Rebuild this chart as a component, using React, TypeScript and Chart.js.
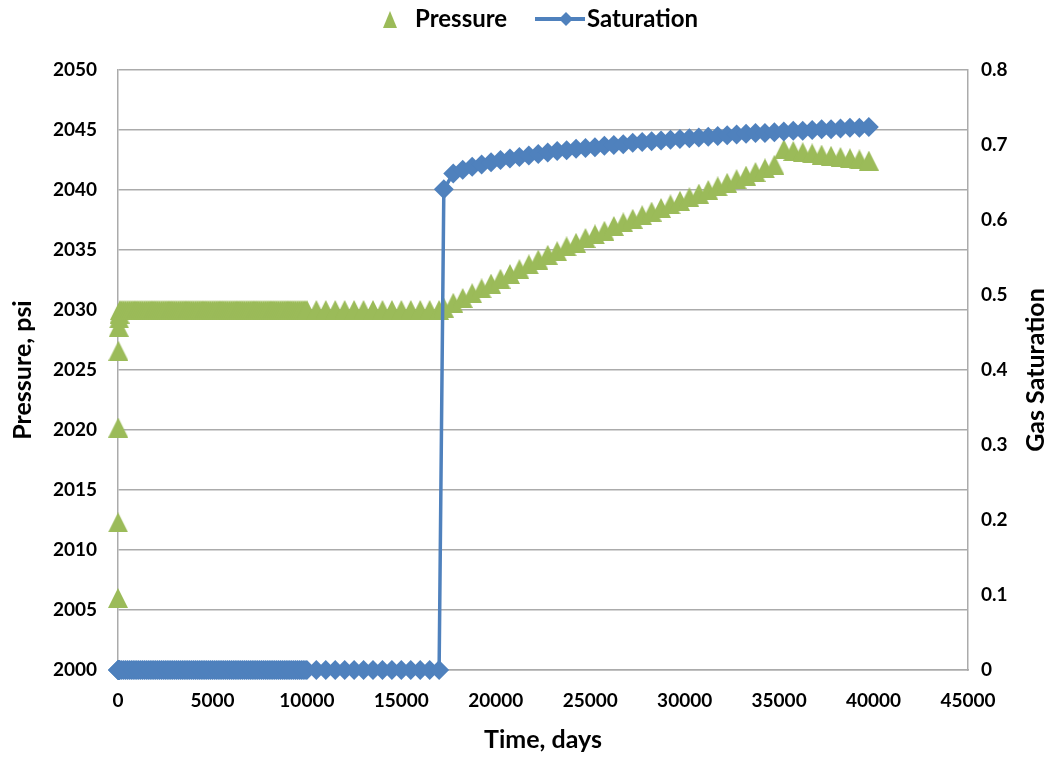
import { useEffect, useRef } from "react";
import { Chart, registerables } from "chart.js";

Chart.register(...registerables);

// ---- Simulation output: time (days), reservoir pressure (psi), gas saturation ----
const timeDays = [
  0, 5, 10, 20, 40, 60, 80,
  100, 200, 300, 400, 500, 600, 700, 800, 900, 1000,
  1100, 1200, 1300, 1400, 1500, 1600, 1700, 1800, 1900, 2000,
  2100, 2200, 2300, 2400, 2500, 2600, 2700, 2800, 2900, 3000,
  3100, 3200, 3300, 3400, 3500, 3600, 3700, 3800, 3900, 4000,
  4100, 4200, 4300, 4400, 4500, 4600, 4700, 4800, 4900, 5000,
  5100, 5200, 5300, 5400, 5500, 5600, 5700, 5800, 5900, 6000,
  6100, 6200, 6300, 6400, 6500, 6600, 6700, 6800, 6900, 7000,
  7100, 7200, 7300, 7400, 7500, 7600, 7700, 7800, 7900, 8000,
  8100, 8200, 8300, 8400, 8500, 8600, 8700, 8800, 8900, 9000,
  9100, 9200, 9300, 9400, 9500, 9600, 9700, 9800, 9900, 10000,
  10500, 11000, 11500, 12000, 12500, 13000, 13500, 14000, 14500, 15000,
  15500, 16000, 16500, 17000,
  17250, 17750, 18250, 18750, 19250, 19750, 20250, 20750, 21250, 21750,
  22250, 22750, 23250, 23750, 24250, 24750, 25250, 25750, 26250, 26750,
  27250, 27750, 28250, 28750, 29250, 29750, 30250, 30750, 31250, 31750,
  32250, 32750, 33250, 33750, 34250, 34750, 35250, 35750, 36250, 36750,
  37250, 37750, 38250, 38750, 39250, 39750,
];

const pressurePsi = [
  2006.0, 2012.3, 2020.2, 2026.6, 2028.6, 2029.3, 2029.7,
  2030.0, 2030.0, 2030.0, 2030.0, 2030.0, 2030.0, 2030.0, 2030.0, 2030.0, 2030.0,
  2030.0, 2030.0, 2030.0, 2030.0, 2030.0, 2030.0, 2030.0, 2030.0, 2030.0, 2030.0,
  2030.0, 2030.0, 2030.0, 2030.0, 2030.0, 2030.0, 2030.0, 2030.0, 2030.0, 2030.0,
  2030.0, 2030.0, 2030.0, 2030.0, 2030.0, 2030.0, 2030.0, 2030.0, 2030.0, 2030.0,
  2030.0, 2030.0, 2030.0, 2030.0, 2030.0, 2030.0, 2030.0, 2030.0, 2030.0, 2030.0,
  2030.0, 2030.0, 2030.0, 2030.0, 2030.0, 2030.0, 2030.0, 2030.0, 2030.0, 2030.0,
  2030.0, 2030.0, 2030.0, 2030.0, 2030.0, 2030.0, 2030.0, 2030.0, 2030.0, 2030.0,
  2030.0, 2030.0, 2030.0, 2030.0, 2030.0, 2030.0, 2030.0, 2030.0, 2030.0, 2030.0,
  2030.0, 2030.0, 2030.0, 2030.0, 2030.0, 2030.0, 2030.0, 2030.0, 2030.0, 2030.0,
  2030.0, 2030.0, 2030.0, 2030.0, 2030.0, 2030.0, 2030.0, 2030.0, 2030.0, 2030.0,
  2030.0, 2030.0, 2030.0, 2030.0, 2030.0, 2030.0, 2030.0, 2030.0, 2030.0, 2030.0,
  2030.0, 2030.0, 2030.0, 2030.0,
  2030.2, 2030.6, 2031.0, 2031.4, 2031.8, 2032.2, 2032.6, 2033.0, 2033.4, 2033.8,
  2034.2, 2034.6, 2034.9, 2035.3, 2035.6, 2036.0, 2036.3, 2036.6, 2037.0, 2037.3,
  2037.6, 2037.9, 2038.2, 2038.5, 2038.8, 2039.1, 2039.4, 2039.7, 2040.0, 2040.3,
  2040.6, 2040.9, 2041.2, 2041.5, 2041.8, 2042.1, 2043.4, 2043.25, 2043.15, 2043.05,
  2042.95, 2042.85, 2042.75, 2042.65, 2042.55, 2042.45,
];

const gasSaturation = [
  0, 0, 0, 0, 0, 0, 0,
  0, 0, 0, 0, 0, 0, 0, 0, 0, 0,
  0, 0, 0, 0, 0, 0, 0, 0, 0, 0,
  0, 0, 0, 0, 0, 0, 0, 0, 0, 0,
  0, 0, 0, 0, 0, 0, 0, 0, 0, 0,
  0, 0, 0, 0, 0, 0, 0, 0, 0, 0,
  0, 0, 0, 0, 0, 0, 0, 0, 0, 0,
  0, 0, 0, 0, 0, 0, 0, 0, 0, 0,
  0, 0, 0, 0, 0, 0, 0, 0, 0, 0,
  0, 0, 0, 0, 0, 0, 0, 0, 0, 0,
  0, 0, 0, 0, 0, 0, 0, 0, 0, 0,
  0, 0, 0, 0, 0, 0, 0, 0, 0, 0,
  0, 0, 0, 0,
  0.641, 0.662, 0.667, 0.671, 0.674, 0.677, 0.680, 0.682, 0.684, 0.686,
  0.688, 0.690, 0.692, 0.693, 0.695, 0.696, 0.697, 0.699, 0.700, 0.701,
  0.703, 0.704, 0.705, 0.706, 0.707, 0.708, 0.709, 0.710, 0.711, 0.712,
  0.713, 0.714, 0.715, 0.716, 0.716, 0.717, 0.718, 0.719, 0.719, 0.720,
  0.721, 0.721, 0.722, 0.723, 0.723, 0.724,
];

// Axis ranges: [min, max, step]
const timeAxis = [0, 45000, 5000];
const pressureAxis = [2000, 2050, 5];
const saturationAxis = [0, 0.8, 0.1];

const seriesNames = ["Pressure", "Saturation"];
const axisTitles = { x: "Time, days", left: "Pressure, psi", right: "Gas Saturation" };

const GREEN = "#9BBB59";
const BLUE = "#4F81BD";
const GRID = "#ABABAB";
const FONT = "Lato, 'Open Sans', sans-serif";

function triangleMarker(w: number, h: number, color: string) {
  const c = document.createElement("canvas");
  c.width = w;
  c.height = h;
  const g = c.getContext("2d")!;
  g.fillStyle = color;
  g.beginPath();
  g.moveTo(w / 2, 0);
  g.lineTo(w, h);
  g.lineTo(0, h);
  g.closePath();
  g.fill();
  return c;
}

// Right-hand title reads bottom-to-top, like the left one.
const rightTitlePlugin = {
  id: "rightAxisTitle",
  afterDraw(chart: any) {
    const { ctx, chartArea } = chart;
    const s = chart.scales.yS;
    ctx.save();
    ctx.translate(s.right - 14, (chartArea.top + chartArea.bottom) / 2);
    ctx.rotate(-Math.PI / 2);
    ctx.font = `bold 25px ${FONT}`;
    ctx.fillStyle = "#000";
    ctx.textAlign = "center";
    ctx.textBaseline = "middle";
    ctx.fillText(axisTitles.right, 0, 0);
    ctx.restore();
  },
};

export default function App() {
  const canvasRef = useRef<HTMLCanvasElement | null>(null);

  useEffect(() => {
    if (!canvasRef.current) return;
    const pressurePoints = timeDays.map((t, i) => ({ x: t, y: pressurePsi[i] }));
    const saturationPoints = timeDays.map((t, i) => ({ x: t, y: gasSaturation[i] }));
    const tickFont = { family: FONT, size: 19, weight: "bold" as const };
    const titleFont = { family: FONT, size: 25, weight: "bold" as const };

    const chart = new Chart(canvasRef.current, {
      type: "scatter",
      data: {
        datasets: [
          {
            label: seriesNames[0],
            data: pressurePoints,
            yAxisID: "yP",
            showLine: false,
            pointStyle: triangleMarker(20, 20, GREEN) as any,
            pointRadius: 10,
            backgroundColor: GREEN,
            borderColor: GREEN,
            order: 1,
            clip: false as any,
          },
          {
            label: seriesNames[1],
            data: saturationPoints,
            yAxisID: "yS",
            showLine: true,
            borderColor: BLUE,
            borderWidth: 3.5,
            pointStyle: "rectRot",
            pointRadius: 10,
            pointBackgroundColor: BLUE,
            pointBorderColor: BLUE,
            pointBorderWidth: 0,
            tension: 0,
            order: 0,
            clip: false as any,
          },
        ],
      },
      options: {
        responsive: false,
        animation: false,
        events: [],
        layout: { padding: { top: 70, left: 0, right: 0, bottom: 0 } },
        plugins: { legend: { display: false }, tooltip: { enabled: false } },
        scales: {
          x: {
            type: "linear",
            position: "bottom",
            min: timeAxis[0],
            max: timeAxis[1],
            ticks: {
              stepSize: timeAxis[2],
              padding: 19,
              color: "#000",
              font: tickFont,
              callback: (v: any) => String(v),
            },
            grid: { display: false, drawTicks: false },
            border: { display: true, color: GRID, width: 1.5 },
            title: {
              display: true,
              text: axisTitles.x,
              color: "#000",
              font: titleFont,
              padding: { top: 0, bottom: 2 },
            },
            afterFit: (s: any) => {
              s.height = 87;
            },
          },
          yP: {
            type: "linear",
            position: "left",
            min: pressureAxis[0],
            max: pressureAxis[1],
            ticks: {
              stepSize: pressureAxis[2],
              padding: 21,
              color: "#000",
              font: tickFont,
              callback: (v: any) => String(v),
            },
            grid: { color: GRID, lineWidth: 1.5, drawTicks: false },
            border: { display: true, color: GRID, width: 1.5 },
            title: {
              display: true,
              text: axisTitles.left,
              color: "#000",
              font: titleFont,
              padding: { top: 8, bottom: 0 },
            },
            afterFit: (s: any) => {
              s.width = 118;
            },
          },
          yS: {
            type: "linear",
            position: "right",
            min: saturationAxis[0],
            max: saturationAxis[1],
            ticks: {
              stepSize: saturationAxis[2],
              padding: 13,
              color: "#000",
              font: tickFont,
              callback: (v: any) => String(Math.round(Number(v) * 10) / 10),
            },
            grid: { display: false, drawTicks: false },
            border: { display: true, color: GRID, width: 1.5 },
            afterFit: (s: any) => {
              s.width = 82;
            },
          },
        },
      },
      plugins: [rightTitlePlugin],
    });
    return () => chart.destroy();
  }, []);

  const legendText: React.CSSProperties = {
    position: "absolute",
    top: 3,
    height: 36,
    lineHeight: "36px",
    font: `bold 24px ${FONT}`,
    color: "#000",
    whiteSpace: "nowrap",
  };

  return (
    <div style={{ position: "absolute", left: 0, top: 0, width: 1050, height: 757, background: "#fff" }}>
      <canvas ref={canvasRef} width={1050} height={757} style={{ display: "block" }} />
      <svg style={{ position: "absolute", left: 383, top: 11 }} width={14} height={17}>
        <polygon points="7,0 14,17 0,17" fill={GREEN} />
      </svg>
      <span style={{ ...legendText, left: 415 }}>{seriesNames[0]}</span>
      <svg style={{ position: "absolute", left: 535, top: 11 }} width={50} height={16}>
        <line x1={0} y1={8} x2={50} y2={8} stroke={BLUE} strokeWidth={4} />
        <polygon points="31,1 38,8 31,15 24,8" fill={BLUE} />
      </svg>
      <span style={{ ...legendText, left: 587 }}>{seriesNames[1]}</span>
    </div>
  );
}
